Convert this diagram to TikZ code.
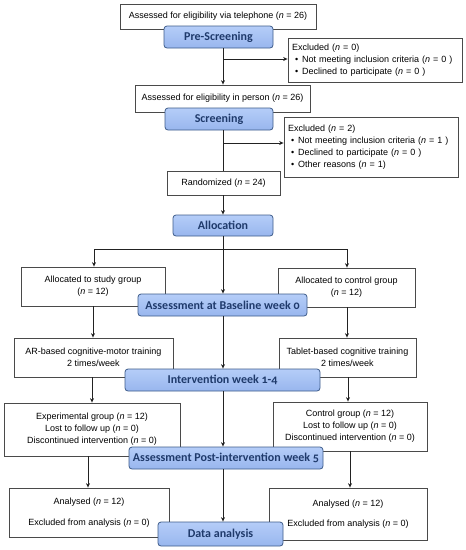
\documentclass[tikz,border=0pt]{standalone}
\usepackage{fontspec}
\setmainfont{Liberation Sans}
\newfontfamily\bluefont{Carlito}[Numbers=OldStyle]
\usetikzlibrary{arrows.meta}
\definecolor{boxline}{HTML}{4A4A4A}
\definecolor{blueline}{HTML}{3E5C8A}
\definecolor{bluetop}{HTML}{B5CDF8}
\definecolor{bluebot}{HTML}{98B6EE}
\definecolor{bluetext}{HTML}{1F3A6B}
\definecolor{conn}{HTML}{222222}
\tikzset{
  wbox/.style={draw=boxline, line width=0.8pt, fill=white, align=center, inner sep=0pt,
    font=\fontsize{9}{12}\selectfont},
  bbox/.style={draw=blueline, line width=0.8pt, rounded corners=3pt, top color=bluetop, bottom color=bluebot,
    inner sep=0pt, text=bluetext, font=\bluefont\bfseries\fontsize{12}{14}\selectfont},
  arr/.style={draw=conn, line width=0.8pt, -{Stealth[length=4.5pt,width=4pt]}},
  ln/.style={draw=conn, line width=0.8pt},
}
\newcommand{\nn}{\textit{n}}
\newcommand{\bul}{\hspace*{3pt}\textbullet\hspace{4pt}}
\begin{document}
\begin{tikzpicture}[x=1pt,y=-1pt]
\useasboundingbox (0,0) rectangle (466,550);
% white boxes
\node[wbox, minimum width=196pt, minimum height=25pt] (tel) at (218,16.5) {Assessed for eligibility via telephone (\nn{} = 26)};
\node[wbox, minimum width=174pt, minimum height=44pt, align=left, text width=166pt] (ex1) at (375,60)
  {Excluded (\nn{} = 0)\\ \bul Not meeting inclusion criteria (\nn{} = 0 )\\ \bul Declined to participate (\nn{} = 0 )};
\node[wbox, minimum width=175pt, minimum height=27pt] (pers) at (222.5,98.5) {Assessed for eligibility in person (\nn{} = 26)};
\node[wbox, minimum width=174pt, minimum height=60pt, align=left, text width=166pt] (ex2) at (371,147)
  {Excluded (\nn{} = 2)\\ \bul Not meeting inclusion criteria (\nn{} = 1 )\\ \bul Declined to participate (\nn{} = 0 )\\ \bul Other reasons (\nn{} = 1)};
\node[wbox, minimum width=113pt, minimum height=24pt] (rand) at (223.5,183) {Randomized (\nn{} = 24)};
\node[wbox, minimum width=144pt, minimum height=39pt] (study) at (93,286.5) {Allocated to study group\\(\nn{} = 12)};
\node[wbox, minimum width=137pt, minimum height=39pt] (ctrl) at (346.5,287.5) {Allocated to control group\\(\nn{} = 12)};
\node[wbox, minimum width=159pt, minimum height=39pt] (ar) at (93.5,357.5) {AR-based cognitive-motor training\\2 times/week};
\node[wbox, minimum width=137pt, minimum height=39pt] (tab) at (347.5,357.5) {Tablet-based cognitive training\\2 times/week};
\node[wbox, minimum width=176pt, minimum height=53pt] (expg) at (92,429.5) {Experimental group (\nn{} = 12)\\Lost to follow up (\nn{} = 0)\\Discontinued intervention (\nn{} = 0)};
\node[wbox, minimum width=154pt, minimum height=49pt] (ctrg) at (350,426.5) {Control group (\nn{} = 12)\\Lost to follow up (\nn{} = 0)\\Discontinued intervention (\nn{} = 0)};
\node[wbox, minimum width=160pt, minimum height=49pt, font=\fontsize{9}{10.5}\selectfont] (anl) at (89,512.5) {Analysed (\nn{} = 12)\\[10pt]Excluded from analysis (\nn{} = 0)};
\node[wbox, minimum width=158pt, minimum height=52pt, font=\fontsize{9}{10.5}\selectfont] (anr) at (348,514) {Analysed (\nn{} = 12)\\[10pt]Excluded from analysis (\nn{} = 0)};
% blue boxes
\node[bbox, minimum width=109pt, minimum height=22pt] (pre) at (218.5,37) {Pre-Screening};
\node[bbox, minimum width=108pt, minimum height=22pt] (scr) at (219,119) {Screening};
\node[bbox, minimum width=100pt, minimum height=21pt] (alloc) at (223,225.5) {Allocation};
\node[bbox, minimum width=169pt, minimum height=22pt] (base) at (222.5,305) {Assessment at Baseline week 0};
\node[bbox, minimum width=195pt, minimum height=22pt] (intv) at (222.5,380) {Intervention week 1-4};
\node[bbox, minimum width=194pt, minimum height=22pt] (post) at (226,458) {Assessment Post-intervention week 5};
\node[bbox, minimum width=125pt, minimum height=24pt] (data) at (220.5,534) {Data analysis};
% connectors
\coordinate (c1) at (223,59);
\coordinate (c2) at (223,143);
\coordinate (split) at (223,249);
\coordinate (sl) at (94,249);
\coordinate (sr) at (347,249);
\draw[arr] (pre.south -| c1) -- (pers.north -| c1);
\draw[arr] (c1) -- (ex1.west |- c1);
\draw[ln] (scr.south -| c2) -- (rand.north -| c2);
\draw[arr] (c2) -- (ex2.west |- c2);
\draw[arr] (rand.south -| c2) -- (alloc.north -| c2);
\draw[ln] (alloc.south -| split) -- (split);
\draw[ln] (sl) -- (sr);
\draw[arr] (sl) -- (study.north -| sl);
\draw[arr] (sr) -- (ctrl.north -| sr);
\draw[arr] (split) -- (base.north -| split);
\draw[arr] (study.south -| 93,0) -- (ar.north -| 93,0);
\draw[arr] (base.south -| split) -- (intv.north -| split);
\draw[arr] (ctrl.south -| 347,0) -- (tab.north -| 347,0);
\draw[arr] (ar.south -| 92,0) -- (expg.north -| 92,0);
\draw[arr] (intv.south -| split) -- (post.north -| split);
\draw[arr] (tab.south -| 348,0) -- (ctrg.north -| 348,0);
\draw[arr] (expg.south -| 88,0) -- (anl.north -| 88,0);
\draw[arr] (post.south -| split) -- (data.north -| split);
\draw[arr] (ctrg.south -| 350,0) -- (anr.north -| 350,0);
\end{tikzpicture}
\end{document}
